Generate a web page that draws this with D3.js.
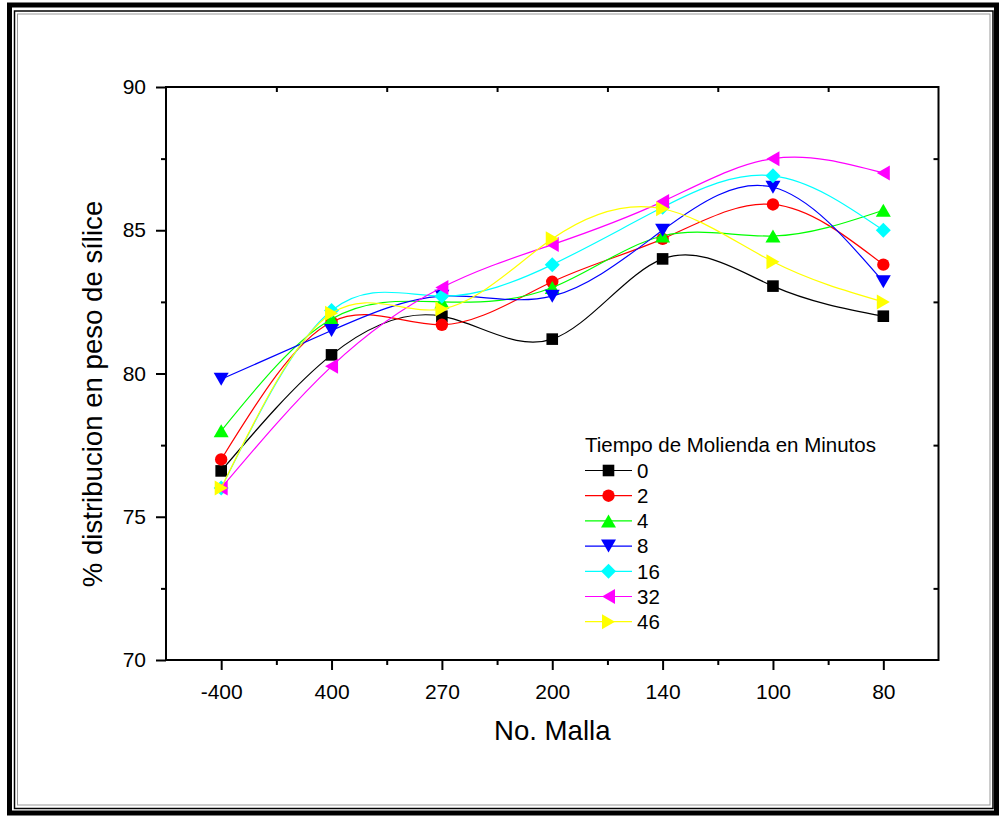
<!DOCTYPE html>
<html>
<head>
<meta charset="utf-8">
<script src="https://cdn.jsdelivr.net/npm/d3@7"></script>
<style>
  html, body { margin: 0; padding: 0; background: #fff; }
  svg { display: block; font-family: "Liberation Sans", Arial, sans-serif; }
</style>
</head>
<body>
<svg id="chart" width="1001" height="817"></svg>
<script>
// Mesh sizes (No. Malla) in plotted order
const categories = ["-400", "400", "270", "200", "140", "100", "80"];

// Grinding time (minutes) for each series
const seriesNames = ["0", "2", "4", "8", "16", "32", "46"];
const seriesColors = ["#000000", "#ff0000", "#00ff00", "#0000ff", "#00ffff", "#ff00ff", "#ffff00"];
const seriesSymbols = ["square", "circle", "triangleUp", "triangleDown", "diamond", "triangleLeft", "triangleRight"];

// % silica distribution by weight
const values0  = [76.6, 80.65, 82.0, 81.2, 84.0, 83.05, 82.0];
const values2  = [77.0, 81.8, 81.7, 83.2, 84.7, 85.9, 83.8];
const values4  = [78.0, 81.9, 82.5, 83.0, 84.8, 84.8, 85.7];
const values8  = [79.8, 81.5, 82.7, 82.7, 85.0, 86.5, 83.2];
const values16 = [76.0, 82.2, 82.7, 83.8, 85.8, 86.9, 85.0];
const values32 = [76.0, 80.25, 83.0, 84.5, 86.0, 87.5, 87.0];
const values46 = [76.0, 82.1, 82.25, 84.7, 85.75, 83.9, 82.5];
const allValues = [values0, values2, values4, values8, values16, values32, values46];

const yMajorTicks = [70, 75, 80, 85, 90];
const yMinorTicks = [72.5, 77.5, 82.5, 87.5];

const svg = d3.select("#chart");

// Page border: heavy outer frame with thin inner rules
svg.append("rect").attr("x", 9.5).attr("y", 5).attr("width", 987).attr("height", 808)
  .attr("fill", "none").attr("stroke", "#000").attr("stroke-width", 5);
svg.append("rect").attr("x", 14.5).attr("y", 11).attr("width", 978.5).attr("height", 797.5)
  .attr("fill", "none").attr("stroke", "#000").attr("stroke-width", 1.5);
svg.append("rect").attr("x", 17.5).attr("y", 14).attr("width", 972.5).attr("height", 791)
  .attr("fill", "none").attr("stroke", "#999").attr("stroke-width", 1);

const plot = { left: 166, right: 938.5, top: 87, bottom: 660 };

const x = d3.scaleLinear().domain([-0.5, categories.length - 0.5]).range([plot.left, plot.right]);
const y = d3.scaleLinear().domain([70, 90]).range([plot.bottom, plot.top]);

const tickFont = "21px";

// Bottom axis: category ticks with minor ticks between them
const xMajor = d3.range(categories.length);
const xMinor = d3.range(categories.length - 1).map(i => i + 0.5);

const gx = svg.append("g").attr("transform", `translate(0,${plot.bottom})`)
  .call(d3.axisBottom(x).tickValues(xMajor).tickSize(10).tickPadding(14)
    .tickFormat(i => categories[i]));
const gxMinor = svg.append("g").attr("transform", `translate(0,${plot.bottom})`)
  .call(d3.axisBottom(x).tickValues(xMinor).tickSize(5).tickFormat(""));

// Left axis
const gy = svg.append("g").attr("transform", `translate(${plot.left},0)`)
  .call(d3.axisLeft(y).tickValues(yMajorTicks).tickSize(10).tickPadding(10).tickFormat(d3.format("d")));
const gyMinor = svg.append("g").attr("transform", `translate(${plot.left},0)`)
  .call(d3.axisLeft(y).tickValues(yMinorTicks).tickSize(5).tickFormat(""));

// Right and top axes: inward minor ticks
const gr = svg.append("g").attr("transform", `translate(${plot.right},0)`)
  .call(d3.axisRight(y).tickValues(yMinorTicks).tickSize(-5).tickFormat(""));
const gt = svg.append("g").attr("transform", `translate(0,${plot.top})`)
  .call(d3.axisTop(x).tickValues(xMinor).tickSize(-5).tickFormat(""));

[gx, gxMinor, gy, gyMinor, gr, gt].forEach(g => {
  g.select(".domain").remove();
  g.selectAll(".tick line").attr("stroke", "#000").attr("stroke-width", 2);
  g.selectAll(".tick text").attr("fill", "#000").style("font-size", tickFont)
    .style("font-family", "'Liberation Sans', Arial, sans-serif");
});

// Plot frame
svg.append("rect")
  .attr("x", plot.left).attr("y", plot.top)
  .attr("width", plot.right - plot.left).attr("height", plot.bottom - plot.top)
  .attr("fill", "none").attr("stroke", "#000").attr("stroke-width", 2);

// Axis titles
svg.append("text")
  .attr("x", (plot.left + plot.right) / 2).attr("y", 740)
  .attr("text-anchor", "middle").style("font-size", "27.6px").attr("fill", "#000")
  .text("No. Malla");
svg.append("text")
  .attr("transform", "translate(102,394) rotate(-90)")
  .attr("text-anchor", "middle").style("font-size", "27.6px").attr("fill", "#000")
  .text("% distribucion en peso de sílice");

// Marker shapes, centred on the data point
function markerPath(kind) {
  const s = 5.8;   // square half-side
  const r = 6.2;   // circle radius
  switch (kind) {
    case "square": return `M${-s},${-s}H${s}V${s}H${-s}Z`;
    case "circle": return `M${r},0A${r},${r} 0 1,1 ${-r},0A${r},${r} 0 1,1 ${r},0Z`;
    case "triangleUp": return "M0,-6.5L7.5,6.5L-7.5,6.5Z";
    case "triangleDown": return "M0,6.5L7.5,-6.5L-7.5,-6.5Z";
    case "triangleLeft": return "M-6.5,0L6.5,-7.5L6.5,7.5Z";
    case "triangleRight": return "M6.5,0L-6.5,-7.5L-6.5,7.5Z";
    case "diamond": return "M0,-7.5L7.5,0L0,7.5L-7.5,0Z";
  }
}

const line = d3.line()
  .x((d, i) => x(i))
  .y(d => y(d))
  .curve(d3.curveNatural);

const series = seriesNames.map((name, k) => ({
  name, color: seriesColors[k], symbol: seriesSymbols[k], values: allValues[k]
}));

const gSeries = svg.append("g");
series.forEach(s => {
  const g = gSeries.append("g");
  g.append("path")
    .attr("d", line(s.values))
    .attr("fill", "none").attr("stroke", s.color).attr("stroke-width", 1.2);
  g.selectAll("path.marker").data(s.values).join("path")
    .attr("class", "marker")
    .attr("transform", (d, i) => `translate(${x(i)},${y(d)})`)
    .attr("d", markerPath(s.symbol))
    .attr("fill", s.color);
});

// Legend
const legend = svg.append("g");
legend.append("text").attr("x", 585).attr("y", 452)
  .style("font-size", "20.5px").attr("fill", "#000")
  .text("Tiempo de Molienda en Minutos");
series.forEach((s, k) => {
  const cy = 470.5 + k * 25.2;
  legend.append("line").attr("x1", 585).attr("x2", 632).attr("y1", cy).attr("y2", cy)
    .attr("stroke", s.color).attr("stroke-width", 1.2);
  legend.append("path").attr("transform", `translate(608.5,${cy})`)
    .attr("d", markerPath(s.symbol)).attr("fill", s.color);
  legend.append("text").attr("x", 637).attr("y", cy + 7.3)
    .style("font-size", "20.5px").attr("fill", "#000").text(s.name);
});
</script>
</body>
</html>
